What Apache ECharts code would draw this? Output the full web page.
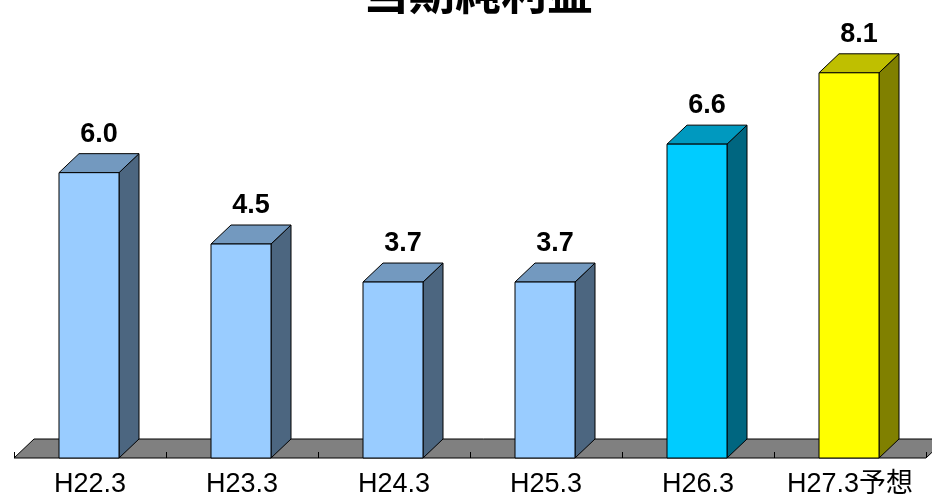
<!DOCTYPE html>
<html>
<head>
<meta charset="utf-8">
<script src="https://cdn.jsdelivr.net/npm/echarts@6/dist/echarts.min.js"></script>
<style>
  html, body { margin: 0; padding: 0; background: #fff; }
  #chart { width: 932px; height: 500px; }
</style>
</head>
<body>
<div id="chart"></div>
<script>
// 当期純利益（億円）
var categories = ['H22.3', 'H23.3', 'H24.3', 'H25.3', 'H26.3', 'H27.3予想']
var values = [6.0, 4.5, 3.7, 3.7, 6.6, 8.1]

// face colors: front / top / side
var frontColors = ['#99ccff', '#99ccff', '#99ccff', '#99ccff', '#00ccff', '#ffff00']
var topColors = ['#7399bf', '#7399bf', '#7399bf', '#7399bf', '#0099bf', '#bfbf00']
var sideColors = ['#4c6680', '#4c6680', '#4c6680', '#4c6680', '#006680', '#808000']

var DX = 20   // depth offset
var DY = 19
var HALF = 30 // half width of front face

var chart = echarts.init(document.getElementById('chart'))

function renderFloor(params, api) {
  var cs = params.coordSys
  var yb = cs.y + cs.height
  return {
    type: 'polygon',
    shape: {
      points: [[cs.x, yb], [cs.x + cs.width, yb], [cs.x + cs.width + DX, yb - DY], [cs.x + DX, yb - DY]]
    },
    style: { fill: '#808080', stroke: '#000', lineWidth: 1 }
  }
}

function renderBar(params, api) {
  var idx = api.value(0)
  var val = api.value(1)
  var p0 = api.coord([idx, 0])
  var p1 = api.coord([idx, val])
  var cx = p0[0] - 1
  var l = cx - HALF, r = cx + HALF
  var top = p1[1], bot = p0[1]
  var line = { stroke: '#000', lineWidth: 1, lineJoin: 'round' }
  return {
    type: 'group',
    children: [
      {
        type: 'polygon',
        shape: { points: [[r, top], [r + DX, top - DY], [r + DX, bot - DY], [r, bot]] },
        style: Object.assign({ fill: sideColors[idx] }, line)
      },
      {
        type: 'polygon',
        shape: { points: [[l, top], [r, top], [r + DX, top - DY], [l + DX, top - DY]] },
        style: Object.assign({ fill: topColors[idx] }, line)
      },
      {
        type: 'rect',
        shape: { x: l, y: top, width: r - l, height: bot - top },
        style: Object.assign({ fill: frontColors[idx] }, line)
      },
      {
        type: 'text',
        x: cx + DX / 2,
        y: top - DY - 6,
        style: {
          text: val.toFixed(1),
          fill: '#000',
          font: 'bold 27px "Liberation Sans", Arial, sans-serif',
          align: 'center',
          verticalAlign: 'bottom'
        }
      }
    ]
  }
}

chart.setOption({
  animation: false,
  title: {
    text: '当期純利益',
    left: 363,
    top: -31,
    padding: 0,
    textStyle: {
      fontFamily: '"Noto Sans CJK JP", sans-serif',
      fontSize: 46,
      fontWeight: 'bold',
      color: '#000'
    }
  },
  grid: {
    left: 14,
    right: 6,
    top: 30,
    bottom: 42
  },
  xAxis: {
    type: 'category',
    data: categories,
    z: 5,
    axisLine: { show: false },
    axisTick: {
      show: true,
      inside: true,
      length: 6,
      lineStyle: { color: '#000', width: 1 }
    },
    axisLabel: {
      interval: 0,
      margin: 13,
      fontFamily: '"Liberation Sans", "Noto Sans CJK JP", sans-serif',
      fontSize: 27,
      color: '#000'
    }
  },
  yAxis: {
    type: 'value',
    min: 0,
    max: 9,
    show: false,
    splitLine: { show: false }
  },
  series: [
    {
      type: 'custom',
      renderItem: renderFloor,
      data: [[0]],
      z: 1,
      silent: true
    },
    {
      type: 'custom',
      renderItem: renderBar,
      encode: { x: 0, y: 1 },
      data: values.map(function (v, i) { return [i, v] }),
      z: 3
    }
  ]
})
</script>
</body>
</html>
